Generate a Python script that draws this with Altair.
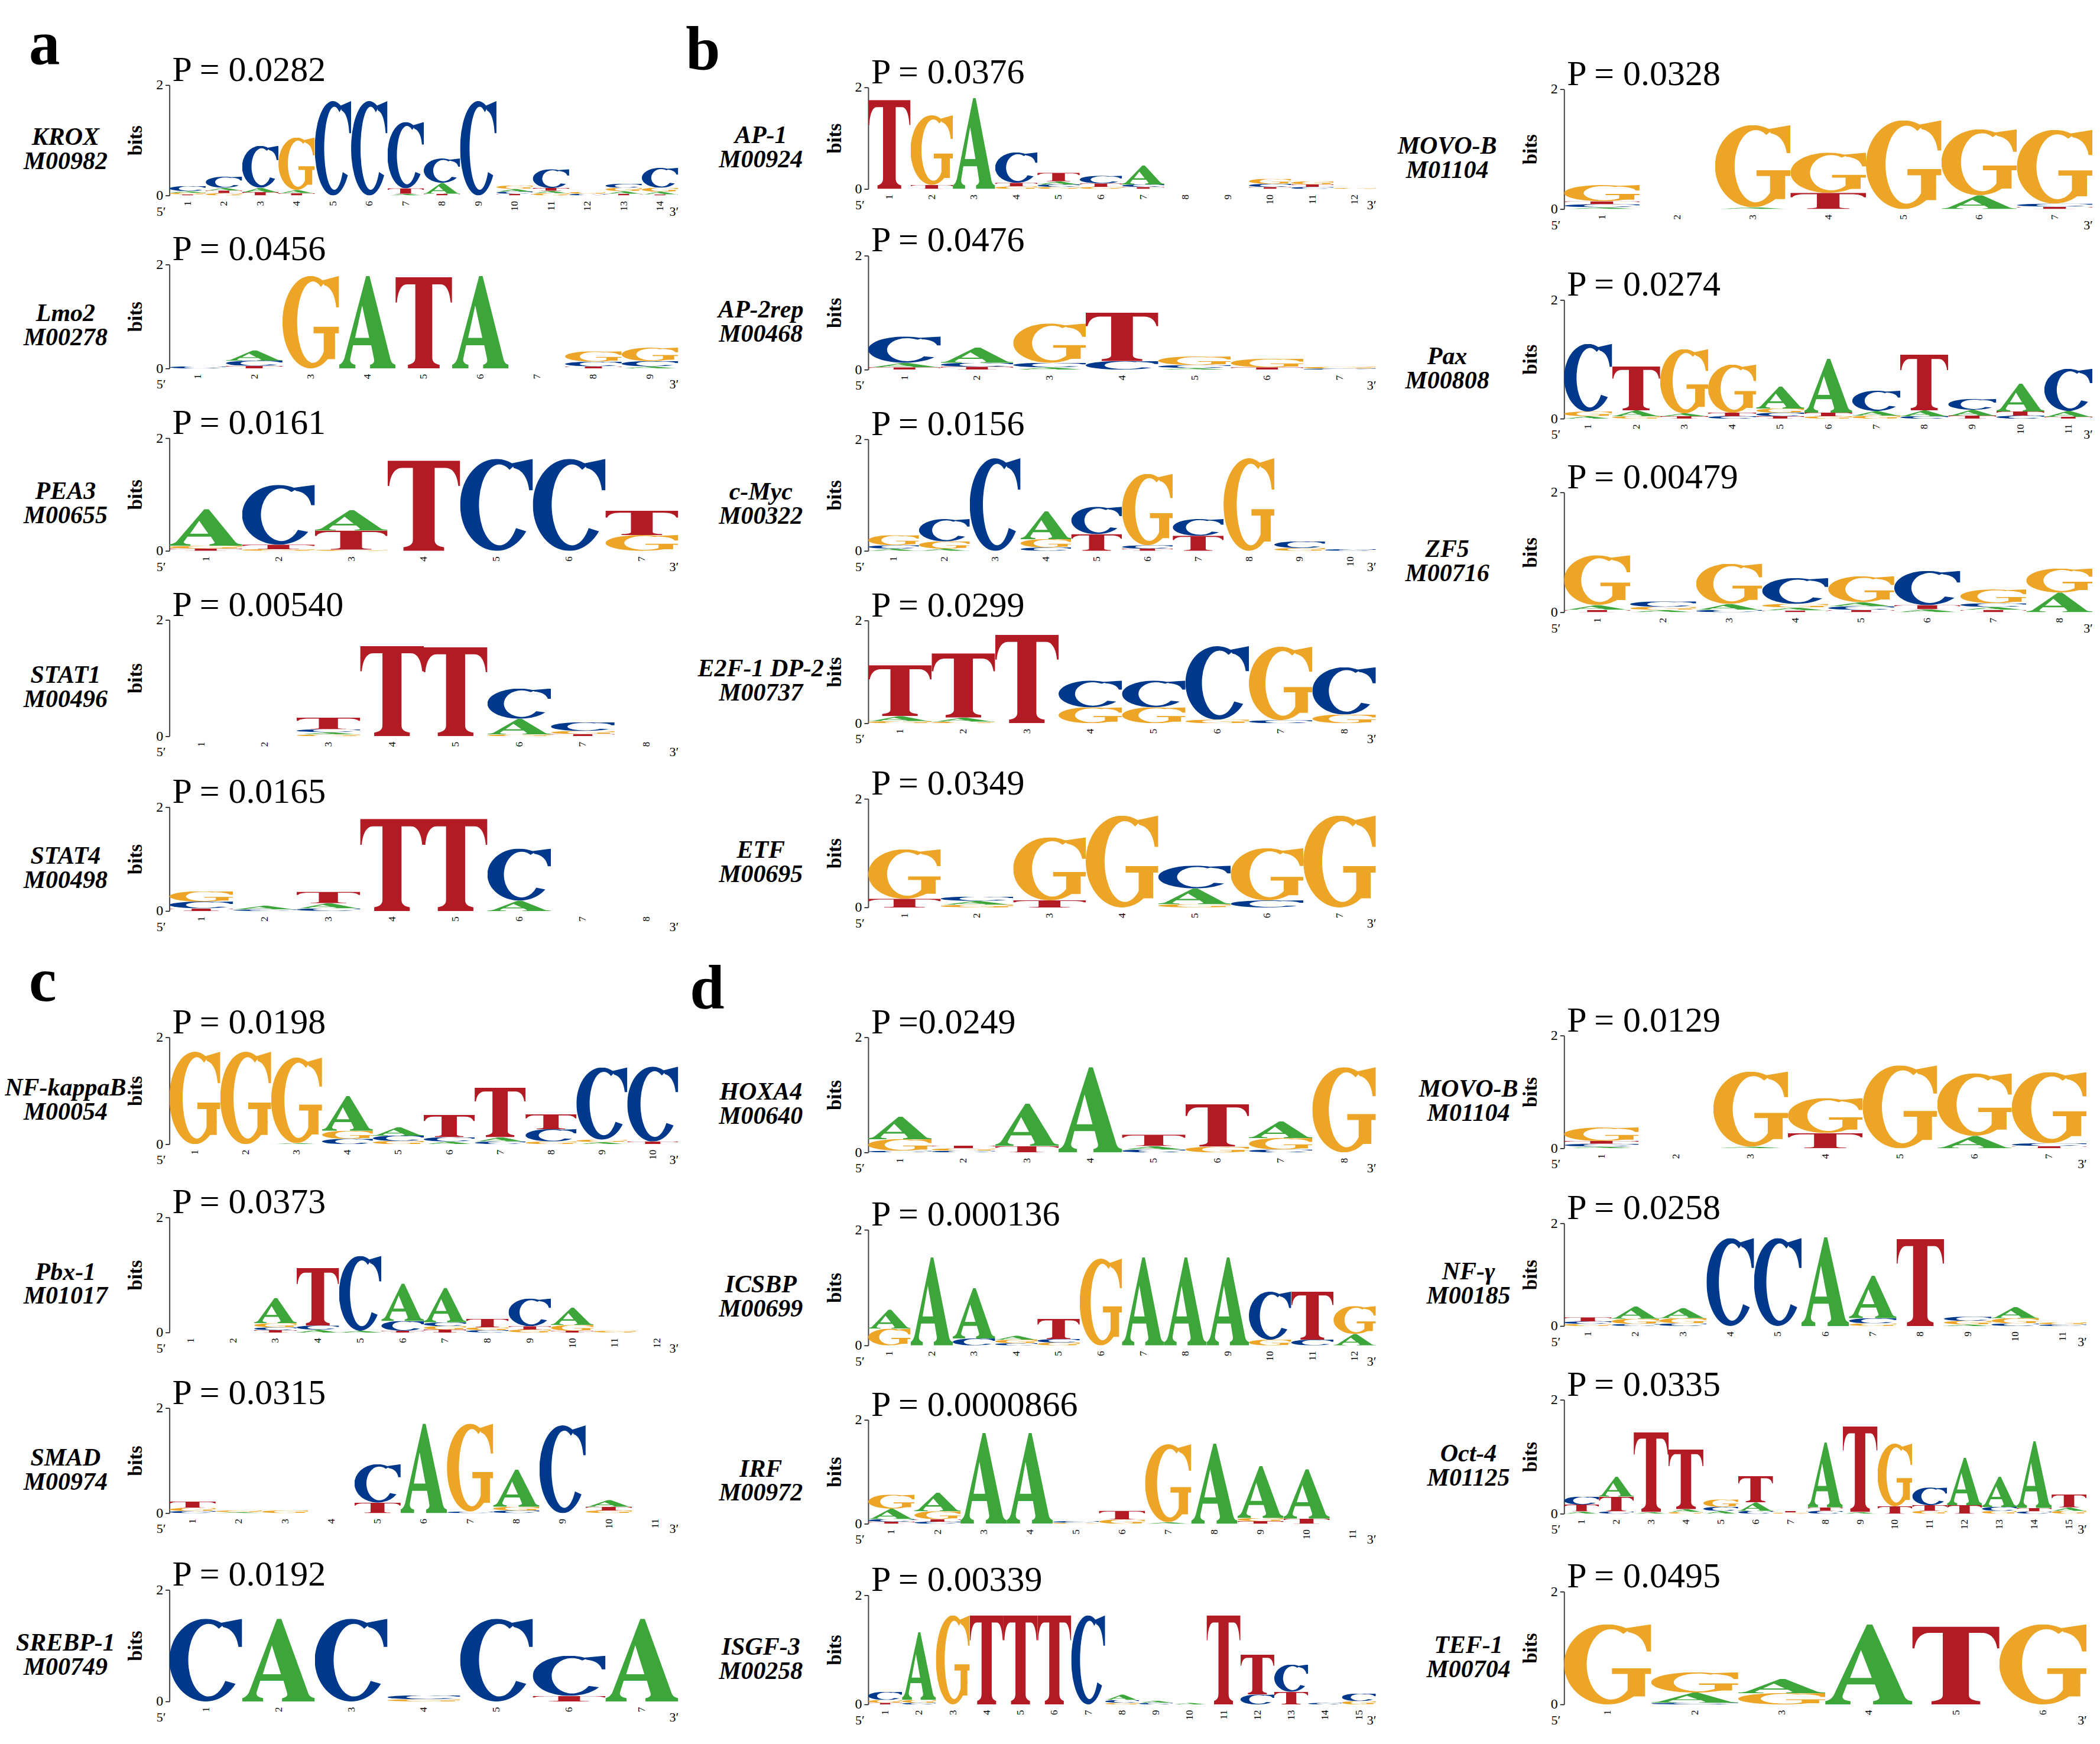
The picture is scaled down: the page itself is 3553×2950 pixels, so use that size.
import base64
import pandas as pd
import altair as alt

SERIF = "Liberation Serif"

# ---------------- data: letter heights in bits, one string per position ----------------
KROX = ["T.02 G.03 A.03 C.09", "T.05 G.04 A.05 C.20", "T.06 A.08 C.76", "T.04 A.06 G.95",
        "C1.71", "C1.71", "A.03 T.10 C1.20", "T.03 A.20 C.44", "C1.71",
        "T.03 C.04 A.05 G.06", "G.04 T.05 A.045 C.34", "C.03 G.035", "T.03 A.05 G.06 C.07",
        "T.02 A.05 G.07 C.36"]
LMO2 = ["C.04", "T.05 C.10 A.20", "G1.78", "A1.78", "T1.76", "A1.78", "",
        "T.04 C.09 G.20", "A.04 C.10 G.26"]
PEA3 = ["T.04 G.05 A.65", "G.03 T.08 C1.06", "G.02 T.34 A.36", "T1.60", "C1.63", "C1.63",
        "G.28 T.43"]
STAT1 = ["", "", "G.03 A.04 C.05 T.20", "T1.55", "T1.53", "G.03 A.27 C.52",
         "T.04 G.05 C.15", ""]
STAT4 = ["T.05 C.13 G.20", "C.03 A.07", "C.05 A.10 T.22", "T1.77", "T1.77", "A.20 C1.00",
         "", ""]
AP1 = ["T1.75", "T.08 G1.37", "A1.79", "G.05 T.07 C.60", "G.04 C.05 A.06 T.17",
       "G.04 T.07 C.15", "T.04 C.05 A.37", "", "", "T.04 C.06 G.10", "C.04 T.05 G.06",
       "G.02"]
AP2REP = ["T.04 A.08 C.46", "T.05 C.07 A.27", "A.04 C.08 G.69", "C.15 T.85",
          "A.03 C.05 G.15", "T.04 G.15", "C.02 G.03"]
CMYC = ["A.04 C.06 G.18", "A.04 G.13 C.40", "C1.66", "C.06 G.15 A.50", "T.30 C.49",
        "T.04 C.06 G1.28", "T.27 C.30", "G1.66", "G.05 C.12", "C.03"]
E2F1 = ["G.04 A.10 T.99", "G.03 A.08 T1.25", "T1.72", "G.31 C.52", "G.31 C.52",
        "G.07 C1.43", "C.06 G1.43", "G.17 C.92"]
ETF = ["T.16 G.91", "G.05 A.07 C.08", "T.13 G1.16", "G1.69", "G.06 A.29 C.42",
       "C.13 G.96", "G1.69"]
MOVOB_1 = ["A.03 C.05 T.05 G.27", "", "A.03 G1.37", "T.27 G.67", "G1.48", "A.23 G1.10",
           "T.04 C.05 G1.23"]
PAX = ["A.04 G.08 C1.14", "G.04 A.10 T.74", "T.04 A.05 G1.08", "C.04 T.06 G.81",
       "T.04 C.06 G.07 A.37", "G.04 T.06 A.91", "G.05 A.08 C.34", "C.04 A.10 T.94",
       "T.05 A.10 C.18", "C.05 T.07 A.47", "T.03 A.10 C.71"]
ZF5 = ["T.04 A.08 G.83", "A.04 G.05 C.09", "C.04 A.10 G.67", "T.03 A.05 G.06 C.43",
       "T.04 C.06 A.07 G.43", "A.05 T.07 C.57", "T.04 A.05 C.06 G.23", "A.33 G.40"]
NFKB = ["G1.73", "G1.73", "A.02 G1.60", "C.10 G.15 A.65", "G.06 C.10 A.16",
        "A.05 C.08 T.42", "C.05 A.08 T.93", "G.05 C.23 T.28", "A.04 G.045 C1.35",
        "T.05 C1.40"]
PBX1 = ["", "", "T.04 C.05 G.07 A.44", "A.05 C.07 T1.00", "A.03 C1.30", "T.03 C.17 A.65",
        "T.05 G.06 C.065 A.60", "C.04 G.05 T.15", "G.05 T.06 C.48", "T.03 G.10 A.30",
        "G.03", ""]
SMAD = ["C.04 G.06 T.12", "A.02 G.03", "G.05", "", "T.20 C.73", "A1.70", "C.03 G1.67",
        "C.05 G.07 A.71", "C1.67", "G.05 T.07 A.13", ""]
SREBP1 = ["C1.48", "A1.48", "C1.48", "G.04 C.07", "C1.48", "T.10 C.72", "A1.48"]
HOXA4 = ["C.03 G.20 A.39", "C.03 G.04 T.05", "T.11 A.74", "A1.48", "C.05 A.06 T.20",
         "G.10 T.74", "C.05 G.20 A.29", "G1.48"]
ICSBP = ["G.29 A.33", "A1.52", "C.12 A.87", "C.04 G.06 A.07", "G.05 C.06 T.35", "G1.50",
         "A1.52", "A1.52", "A1.52", "G.10 C.83", "C.10 T.83", "A.20 G.48"]
IRF = ["T.04 C.05 A.20 G.27", "C.04 T.05 G.15 A.36", "A1.75", "A1.75", "G.02 C.03",
       "G.08 T.17", "A.03 G1.50", "A1.54", "T.05 G.06 A1.00", "T.10 A.95", ""]
ISGF3 = ["T.03 G.05 C.15", "C.03 G.05 A1.24", "G1.63", "T1.63", "T1.63", "T1.63", "C1.63",
         "G.03 C.05 A.10", "C.03 A.04", "A.03", "T1.63", "C.18 T.73", "T.23 C.50", "C.03",
         "G.06 C.14"]
MOVOB_2 = ["A.03 C.05 T.05 G.24", "", "A.03 G1.33", "T.27 G.62", "G1.47", "A.22 G1.11",
           "T.04 C.05 G1.26"]
NFY = ["G.04 C.05 T.08", "C.04 G.10 A.24", "C.05 G.10 A.20", "C1.71", "C1.71", "A1.73",
       "G.05 C.10 A.83", "T1.69", "A.03 G.07 C.08", "C.05 G.10 A.22", "C.03 G.04"]
OCT4 = ["A.04 T.12 C.14", "C.04 T.26 A.35", "A.03 T1.40", "G.03 A.05 T1.05",
        "A.05 C.07 G.13", "C.05 A.15 T.46", "G.02 T.03", "C.05 T.06 A1.14", "A.03 T1.50",
        "T.13 G1.10", "G.05 T.10 C.31", "T.15 A.83", "G.05 C.07 A.53", "C.04 T.06 A1.17",
        "G.05 A.06 T.23"]
TEF1 = ["G1.42", "C.03 A.18 G.36", "G.20 A.25", "A1.42", "T1.38", "G1.42"]

# ---------------- labels ----------------
COL1_NAMES = ["KROX", "Lmo2", "PEA3", "STAT1", "STAT4", "NF-kappaB", "Pbx-1", "SMAD", "SREBP-1"]
COL1_IDS = ["M00982", "M00278", "M00655", "M00496", "M00498", "M00054", "M01017", "M00974", "M00749"]
COL1_P = ["P = 0.0282", "P = 0.0456", "P = 0.0161", "P = 0.00540", "P = 0.0165",
          "P = 0.0198", "P = 0.0373", "P = 0.0315", "P = 0.0192"]
COL1_LOGOS = [KROX, LMO2, PEA3, STAT1, STAT4, NFKB, PBX1, SMAD, SREBP1]

COL2_NAMES = ["AP-1", "AP-2rep", "c-Myc", "E2F-1 DP-2", "ETF", "HOXA4", "ICSBP", "IRF", "ISGF-3"]
COL2_IDS = ["M00924", "M00468", "M00322", "M00737", "M00695", "M00640", "M00699", "M00972", "M00258"]
COL2_P = ["P = 0.0376", "P = 0.0476", "P = 0.0156", "P = 0.0299", "P = 0.0349",
          "P =0.0249", "P = 0.000136", "P = 0.0000866", "P = 0.00339"]
COL2_LOGOS = [AP1, AP2REP, CMYC, E2F1, ETF, HOXA4, ICSBP, IRF, ISGF3]

COL3_NAMES = ["MOVO-B", "Pax", "ZF5", "MOVO-B", "NF-γ", "Oct-4", "TEF-1"]
COL3_IDS = ["M01104", "M00808", "M00716", "M01104", "M00185", "M01125", "M00704"]
COL3_P = ["P = 0.0328", "P = 0.0274", "P = 0.00479", "P = 0.0129", "P = 0.0258",
          "P = 0.0335", "P = 0.0495"]
COL3_LOGOS = [MOVOB_1, PAX, ZF5, MOVOB_2, NFY, OCT4, TEF1]

# ---------------- layout (pixels) ----------------
COL1_TOPS = [141, 445, 739, 1047, 1364, 1754, 2059, 2382, 2690]
COL1_H = [187, 176, 191, 197, 176, 181, 195, 178, 189]
COL2_TOPS = [145, 430, 741, 1048, 1350, 1754, 2080, 2402, 2699]
COL2_H = [172, 193, 189, 174, 184, 195, 196, 176, 185]
COL3_TOPS = [148, 505, 831, 1751, 2069, 2368, 2693]
COL3_H = [203, 201, 203, 191, 174, 193, 191]
COL1_W = [862] * 9
COL2_W = [860] * 9
COL3_W = [895] * 3 + [885] * 4
COL1_NAME_DX = [-176] * 9
COL2_NAME_DX = [-182] * 9
COL3_NAME_DX = [-198] * 3 + [-162] * 4
COL1_TAGS = {0: ("a", 105, -238), 5: ("c", 1692, -238)}
COL2_TAGS = {0: ("b", 115, -309), 5: ("d", 1705, -302)}
COL3_TAGS = {}

# ---------------- glyph outlines (serif bold letters in a 100x100 box, stretched to the stack) ----
COLORS = {"A": "#3da63a", "C": "#00388c", "G": "#eca526", "T": "#b31b24"}
SPUR = "M70,5 L100,0 V34 H95 C93,21 86,12 74,10 Z"
OUTLINES = {
    "A": ["M48,0 H54 L91,90 C93,94 95,95 100,96 V100 H55 V96 C61,95 63,93 62,90 L57,75 H25 "
          "L20,89 C19,93 22,95 29,96 V100 H0 V96 C5,95 8,92 10,88 Z M28.5,67 H53.5 L41,32 Z"],
    "C": ["M75,6.7 A50,50 0 1 0 91,78.7 L76.9,75.2 A28,44 0 1 1 68,11.9 Z", SPUR],
    "G": ["M75,6.7 A50,50 0 1 0 93.3,75 L78.2,72 A28,44 0 1 1 68,11.9 Z", SPUR,
          "M73,58 H93 V90 H73 Z", "M55,55 H100 V62 H55 Z"],
    "T": ["M0,0 H100 V28 H97.5 C96,16 90,8 80,8 H65 V88 C65,93 70,95 78,96 V100 H22 V96 "
          "C30,95 35,93 35,88 V8 H20 C10,8 4,16 2.5,28 H0 Z"],
}


def glyph_url(ch):
    paths = "".join('<path fill="%s" fill-rule="evenodd" d="%s"/>' % (COLORS[ch], d)
                    for d in OUTLINES[ch])
    svg = ('<svg xmlns="http://www.w3.org/2000/svg" viewBox="0 0 100 100" '
           'preserveAspectRatio="none">%s</svg>') % paths
    return "data:image/svg+xml;base64," + base64.b64encode(svg.encode("utf-8")).decode("ascii")


URLS = {ch: glyph_url(ch) for ch in "ACGT"}


def letters_frame(cols):
    rows = []
    for i, col in enumerate(cols, start=1):
        for tok in col.split():
            rows.append({"pos": i, "letter": tok[0], "h": float(tok[1:]), "url": URLS[tok[0]]})
    return pd.DataFrame(rows, columns=["pos", "letter", "h", "url"])


def text_layer(txt, x, y, **kw):
    return alt.Chart(pd.DataFrame({"t": [txt]})).mark_text(color="black", **kw).encode(
        text="t:N", x=alt.value(x), y=alt.value(y))


def panel(cols, name, ident, ptxt, W, H, name_dx):
    n = len(cols)
    df = letters_frame(cols)
    x_axis = alt.Axis(values=list(range(1, n + 1)), format="d", labelAngle=270, labelAlign="right",
                      labelBaseline="middle", labelFont=SERIF, labelFontSize=17, labelColor="black",
                      labelPadding=9, ticks=False, tickSize=0, domain=False, grid=False, title=None,
                      labelOverlap=False, labelFlush=False)
    y_axis = alt.Axis(values=[0, 1, 2], format="d", title="bits", titleFont=SERIF, titleFontSize=33,
                      titleFontWeight="bold", titleColor="black", titleAngle=270, titleX=-57,
                      titleY=H / 2, titleAlign="center", titleBaseline="middle",
                      labelFont=SERIF, labelFontSize=24, labelColor="black", labelPadding=4,
                      tickSize=7, tickColor="black", tickWidth=1.5, domainColor="#444",
                      domainWidth=2, grid=False, labelFlush=False)
    logo = alt.Chart(df).transform_stack(
        stack="h", groupby=["pos"], as_=["y0", "y1"], sort=[alt.SortField("h", order="ascending")]
    ).transform_calculate(
        xa="datum.pos - 0.5", xb="datum.pos + 0.5"
    ).mark_image(aspect=False).encode(
        x=alt.X("xa:Q", scale=alt.Scale(domain=[0.5, n + 0.5], nice=False, zero=False), axis=x_axis),
        x2="xb:Q",
        y=alt.Y("y0:Q", scale=alt.Scale(domain=[0, 2], nice=False), axis=y_axis),
        y2="y1:Q",
        url="url:N",
    )
    ptext = text_layer(ptxt, 5, -7, font=SERIF, fontSize=60, align="left", baseline="alphabetic")
    ntext = text_layer(name + "\n" + ident, name_dx, H / 2 - 5, font=SERIF, fontSize=42,
                       fontWeight="bold", fontStyle="italic", lineBreak="\n", lineHeight=41,
                       align="center", baseline="middle")
    five = text_layer("5′", -14, H + 27, font=SERIF, fontSize=22, align="center", baseline="middle")
    three = text_layer("3′", W - 7, H + 27, font=SERIF, fontSize=22, align="center", baseline="middle")
    return alt.layer(logo, ptext, ntext, five, three).properties(width=W, height=H)


def spacer(w, h, tag=None):
    if tag is None:
        ch = text_layer("", 0, 0, fontSize=1)
    else:
        letter, ty, tx = tag
        ch = text_layer(letter, tx, ty, font=SERIF, fontSize=105, fontWeight="bold",
                        align="left", baseline="alphabetic")
    return ch.properties(width=w, height=h)


def column(logos, names, ids, ptexts, tops, heights, widths, name_dx, tags, pin_w):
    cells = []
    prev_bottom = 8
    for i in range(len(logos)):
        gap = tops[i] - prev_bottom
        tag = None
        if i in tags:
            letter, base_y, tx = tags[i]
            tag = (letter, base_y - prev_bottom, tx)
        cells.append(spacer(pin_w, gap, tag))
        cells.append(panel(logos[i], names[i], ids[i], ptexts[i], widths[i], heights[i], name_dx[i]))
        prev_bottom = tops[i] + heights[i]
    return alt.vconcat(*cells, spacing=0, bounds="flush")


col1 = column(COL1_LOGOS, COL1_NAMES, COL1_IDS, COL1_P, COL1_TOPS, COL1_H, COL1_W,
              COL1_NAME_DX, COL1_TAGS, 875)
col2 = column(COL2_LOGOS, COL2_NAMES, COL2_IDS, COL2_P, COL2_TOPS, COL2_H, COL2_W,
              COL2_NAME_DX, COL2_TAGS, 896)
col3 = column(COL3_LOGOS, COL3_NAMES, COL3_IDS, COL3_P, COL3_TOPS, COL3_H, COL3_W,
              COL3_NAME_DX, COL3_TAGS, 895)

chart = alt.hconcat(col1, col2, col3, spacing=0).properties(
    padding={"left": 0, "top": 0, "right": 4, "bottom": 4}
).configure(font=SERIF, background="white").configure_view(stroke=None)

chart.save("out.html", embed_options={"renderer": "svg", "actions": False})
